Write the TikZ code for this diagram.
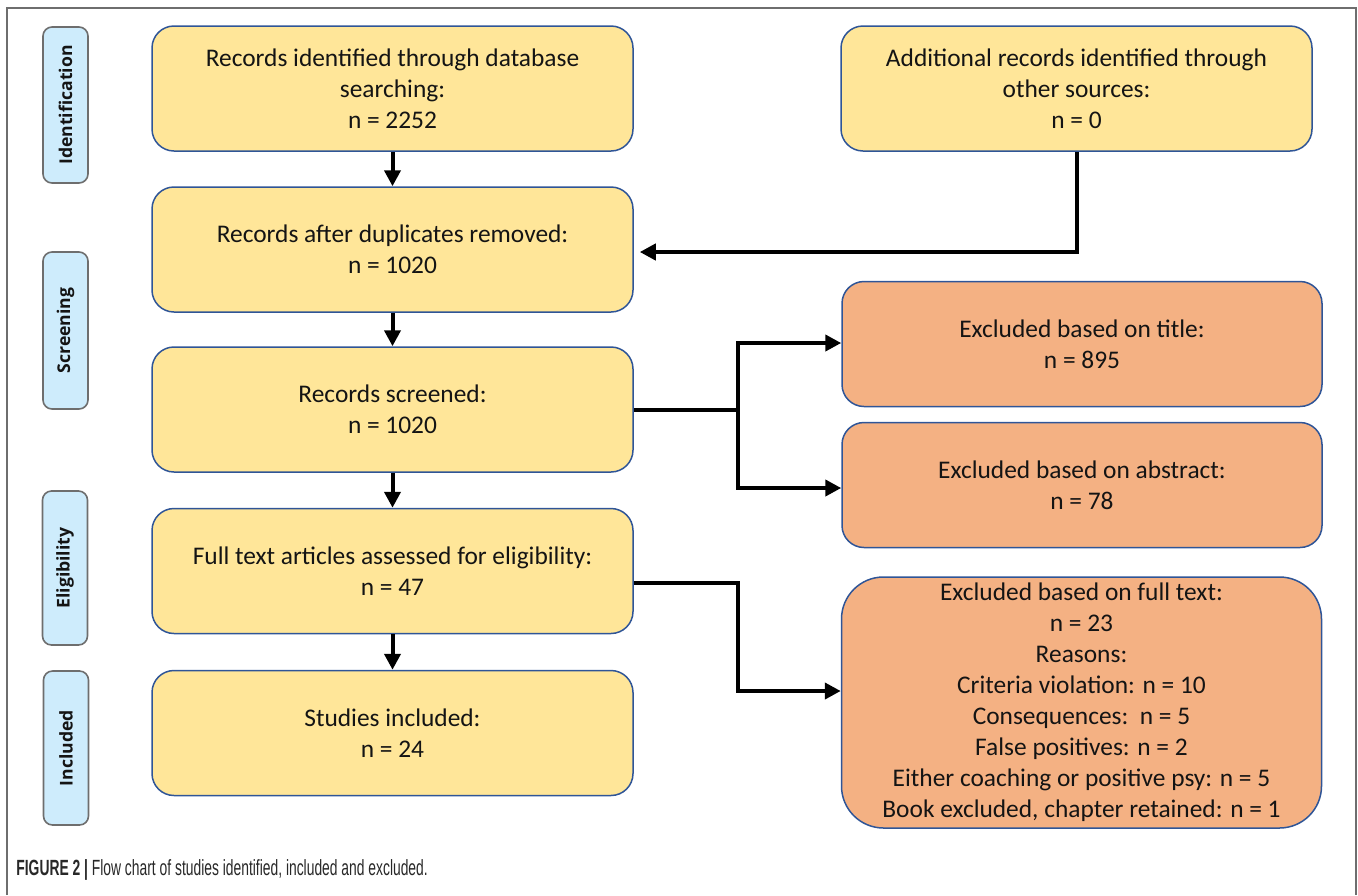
\documentclass[tikz,border=0pt]{standalone}
\usepackage{fontspec}
\setmainfont{Carlito}
\newfontfamily\lblfont{Open Sans}
\newfontfamily\capfont[FakeStretch=0.63]{Liberation Sans}
\usetikzlibrary{arrows.meta}
\definecolor{ybox}{RGB}{255,230,153}
\definecolor{obox}{RGB}{244,177,131}
\definecolor{lbox}{RGB}{206,236,252}
\definecolor{bdr}{RGB}{47,85,151}
\definecolor{gbdr}{RGB}{110,110,110}
\definecolor{txt}{RGB}{20,20,20}
\definecolor{frame}{RGB}{110,110,110}
\tikzset{
  flowbox/.style={draw=bdr, line width=0.75pt, rounded corners=11pt, inner sep=0pt,
    align=center, text=txt, font=\fontsize{12.7pt}{15.5pt}\selectfont},
  yellowbox/.style={flowbox, fill=ybox, minimum width=240.5pt, minimum height=62.5pt},
  orangebox/.style={flowbox, fill=obox, minimum width=240pt, minimum height=62.5pt},
  stagebox/.style={draw=gbdr, line width=0.8pt, fill=lbox, rounded corners=4.5pt, inner sep=0pt,
    minimum width=22.5pt, text=txt, font=\lblfont\bfseries\fontsize{8.8pt}{10pt}\selectfont},
  arr/.style={draw=black, line width=2pt, -{Triangle[length=8pt,width=8pt]}},
}
\begin{document}
\begin{tikzpicture}[x=0.5pt,y=-0.5pt]
\useasboundingbox (0,0) rectangle (1358,895);
% frame
\draw[frame, line width=0.8pt] (7,895) -- (7,8) -- (1356,8) -- (1356,895);

% stage labels
\node[stagebox, minimum height=78pt] (sid) at (65.5,105) {\rotatebox{90}{Identification}};
\node[stagebox, minimum height=78.5pt] (ssc) at (65.5,330.5) {\rotatebox{90}{Screening}};
\node[stagebox, minimum height=77pt] (sel) at (65,568) {\rotatebox{90}{Eligibility}};
\node[stagebox, minimum height=77pt] (sin) at (66,748) {\rotatebox{90}{Included}};

% left column
\node[yellowbox] (b1) at (392.5,88.5) {Records identified through database\\searching:\\n = 2252};
\node[yellowbox] (b2) at (392.5,249.5) {Records after duplicates removed:\\n = 1020};
\node[yellowbox] (b3) at (392.5,409.5) {Records screened:\\n = 1020};
\node[yellowbox] (b4) at (392.5,571) {Full text articles assessed for eligibility:\\n = 47};
\node[yellowbox] (b5) at (392.5,733) {Studies included:\\n = 24};

% right column
\node[yellowbox, minimum width=235.5pt] (add) at (1076.5,88.5) {Additional records identified through\\other sources:\\n = 0};
\node[orangebox] (ti) at (1082,344) {Excluded based on title:\\n = 895};
\node[orangebox] (ab) at (1082,485) {Excluded based on abstract:\\n = 78};
\node[orangebox, minimum height=125.5pt, rounded corners=21pt] (ft) at (1081.5,702.5)
  {Excluded based on full text:\\n = 23\\Reasons:\\Criteria violation: n = 10\\Consequences:\ \ n = 5\\False positives: n = 2\\Either coaching or positive psy: n = 5\\Book excluded, chapter retained: n = 1};

% connectors
\draw[arr] (b1) -- (b2);
\draw[arr] (b2) -- (b3);
\draw[arr] (b3) -- (b4);
\draw[arr] (b4) -- (b5);
\draw[arr, shorten >=3pt] (add.south) |- ([yshift=-1.25pt]b2.east);
\coordinate (j1) at (738,409.5);
\draw[line width=2pt] (b3.east) -- (j1);
\draw[arr] (j1) |- ([yshift=0.5pt]ti.west);
\draw[arr] (j1) |- ([yshift=-1.5pt]ab.west);
\coordinate (j2) at (738,583);
\draw[arr] (j2 -| b4.east) -- (j2) |- ([yshift=5.75pt]ft.west);

% caption
\node[anchor=base west, inner sep=0pt, text={rgb,255:red,40;green,40;blue,40}, font=\capfont\fontsize{11pt}{13pt}\selectfont] (cap) at (16,875)
  {\textbf{FIGURE 2 |} Flow chart of studies identified, included and excluded.};
\end{tikzpicture}
\end{document}
